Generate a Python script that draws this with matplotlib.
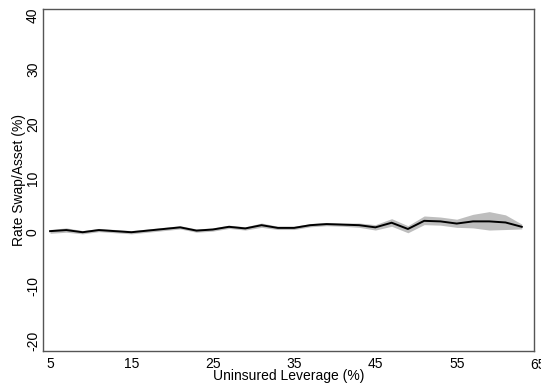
import matplotlib
matplotlib.use("Agg")
import matplotlib.pyplot as plt
import matplotlib.transforms as mtransforms
import numpy as np

plt.rcParams['font.family'] = ['Liberation Sans', 'DejaVu Sans']

# uninsured leverage bins (%)
leverage = [5, 7, 9, 11, 13, 15, 17, 19, 21, 23, 25, 27, 29, 31, 33,
            35, 37, 39, 41, 43, 45, 47, 49, 51, 53, 55, 57, 59, 61, 63]
# point estimate of rate swap / asset (%)
swap = [0.2, 0.4, 0.0, 0.4, 0.2, 0.0, 0.3, 0.6, 0.9, 0.3, 0.5, 1.0, 0.7, 1.3, 0.8,
        0.8, 1.3, 1.5, 1.4, 1.3, 0.9, 1.75, 0.6, 2.1, 2.0, 1.6, 2.0, 2.0, 1.8, 1.0]
# confidence band
ci_low = [-0.2, 0.0, -0.3, 0.1, -0.1, -0.3, 0.0, 0.3, 0.6, 0.0, 0.2, 0.7, 0.4, 0.9, 0.5,
          0.5, 1.0, 1.2, 1.1, 0.9, 0.4, 1.1, -0.1, 1.4, 1.3, 0.9, 0.8, 0.4, 0.5, 0.6]
ci_high = [0.5, 0.8, 0.3, 0.7, 0.5, 0.3, 0.6, 0.9, 1.2, 0.6, 0.8, 1.3, 1.0, 1.7, 1.1,
           1.1, 1.6, 1.8, 1.7, 1.7, 1.4, 2.5, 1.2, 3.0, 2.8, 2.4, 3.3, 3.8, 3.2, 1.5]

xticks = [5, 15, 25, 35, 45, 55]
yticks = [-20, -10, 0, 10, 20, 30, 40]

fig = plt.figure(figsize=(5.41, 3.84), dpi=100)
ax = fig.add_axes([0.079, 0.086, 0.908, 0.891])

ax.fill_between(leverage, ci_low, ci_high, color='#bebebe', lw=0)
ax.plot(leverage, swap, color='black', lw=1.4)

ax.set_xlim(4.1, 64.5)
ax.set_ylim(-21.9, 41.2)
ax.set_xticks(xticks)
ax.set_yticks(yticks)
ax.set_yticklabels([str(t) for t in yticks], rotation=90, va='center')
ax.tick_params(axis='x', length=0, labelsize=10, pad=4)
ax.tick_params(axis='y', length=0, labelsize=10, pad=2)

# last tick label sits just past the right edge of the plot region
trans = mtransforms.blended_transform_factory(ax.transData, ax.transAxes)
ax.text(65, -0.02, "65", transform=trans, ha='center', va='top', fontsize=10,
        clip_on=False)

for s in ax.spines.values():
    s.set_color('#555555')
    s.set_linewidth(1.0)

ax.set_xlabel("Uninsured Leverage (%)", fontsize=10, labelpad=-1)
ax.set_ylabel("Rate Swap/Asset (%)", fontsize=10, labelpad=0)

fig.savefig("out.png", dpi=100)
